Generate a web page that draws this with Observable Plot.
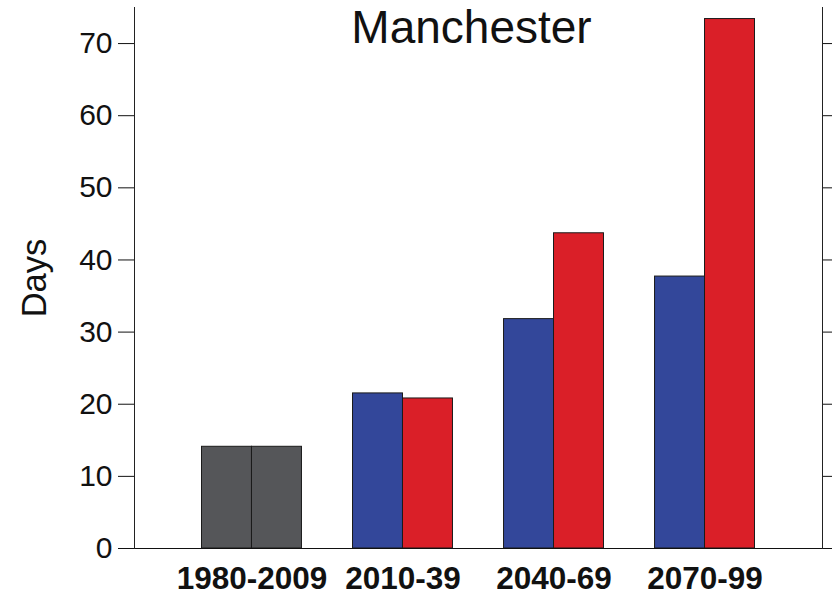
<!DOCTYPE html>
<html>
<head>
<meta charset="utf-8">
<script src="https://cdn.jsdelivr.net/npm/d3@7"></script>
<script src="https://cdn.jsdelivr.net/npm/@observablehq/plot@0.6"></script>
<style>
  html, body { margin: 0; padding: 0; background: #fff; }
  #chart svg { display: block; font-family: "Liberation Sans", Arial, Helvetica, sans-serif; }
</style>
</head>
<body>
<div id="chart"></div>
<script>
// Hot days per year in Manchester, by 30-year period
const title = "Manchester";
const yLabel = "Days";
const periods = ["1980-2009", "2010-39", "2040-69", "2070-99"];
const firstBarValues = [14.1, 21.5, 31.8, 37.7];
const secondBarValues = [14.1, 20.8, 43.7, 73.4];
const yTicks = [0, 10, 20, 30, 40, 50, 60, 70];

// Observed baseline is shown in grey; projections use blue / red
const groupKeys = ["observed", "first", "second"];
const groupColors = ["#555659", "#33479a", "#da1f28"];

const firstBars = periods.map((period, i) => ({period, value: firstBarValues[i], group: i === 0 ? "observed" : "first"}));
const secondBars = periods.map((period, i) => ({period, value: secondBarValues[i], group: i === 0 ? "observed" : "second"}));

const width = 832, height = 595;
const margin = {top: 7, right: 10, bottom: 47, left: 134};
const padInner = 0.338, padOuter = 0.447;

// each period band holds two side-by-side bars: split the band in halves
const halfBand = d3.scaleBand()
  .domain(periods)
  .range([margin.left, width - margin.right])
  .paddingInner(padInner)
  .paddingOuter(padOuter)
  .bandwidth() / 2;

const barStyle = {x: "period", y: "value", fill: "group", stroke: "#1b1b1b", strokeWidth: 1};

const chart = Plot.plot({
  width,
  height,
  marginLeft: margin.left,
  marginRight: margin.right,
  marginTop: margin.top,
  marginBottom: margin.bottom,
  x: {domain: periods, paddingInner: padInner, paddingOuter: padOuter, round: false, label: null},
  y: {domain: [0, 75], label: null},
  color: {domain: groupKeys, range: groupColors},
  marks: [
    Plot.barY(firstBars, {...barStyle, insetRight: halfBand}),
    Plot.barY(secondBars, {...barStyle, insetLeft: halfBand}),
    Plot.ruleY([0], {stroke: "#111"}),
    Plot.frame({anchor: "left", stroke: "#222"}),
    Plot.frame({anchor: "right", stroke: "#222"}),
    Plot.axisY({anchor: "left", ticks: yTicks, tickSize: 16, tickPadding: 6,
      fontSize: 30, label: null, color: "#111"}),
    Plot.axisY({anchor: "right", ticks: yTicks, tickSize: 10,
      tickFormat: () => "", label: null, color: "#111"}),
    Plot.axisX({anchor: "bottom", tickSize: 0, tickPadding: 18, fontSize: 31.5,
      fontWeight: "bold", label: null, color: "#111"}),
    Plot.text([title], {text: d => d, frameAnchor: "top", lineAnchor: "bottom",
      dy: 35, dx: -7, fontSize: 46, fill: "#111"}),
    Plot.text([yLabel], {text: d => d, frameAnchor: "left", textAnchor: "middle", rotate: -90,
      lineAnchor: "bottom", dx: -89, dy: 0, fontSize: 34.5, fill: "#111"})
  ]
});

document.getElementById("chart").appendChild(chart);
</script>
</body>
</html>
